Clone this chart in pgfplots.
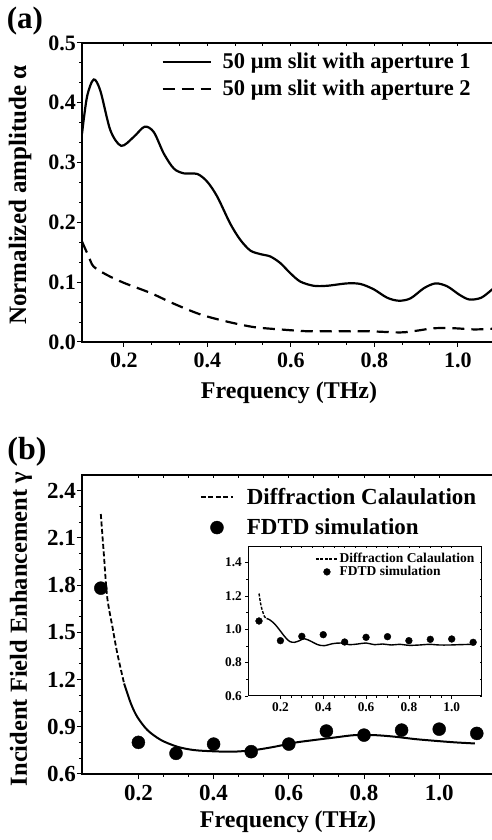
\documentclass[border=0pt]{standalone}
\usepackage{fontspec}
\setmainfont{Liberation Serif}
\usepackage{pgfplots}
\pgfplotsset{compat=1.18}
\newcommand{\fs}[1]{\fontsize{#1}{#1}\selectfont\bfseries}

\pgfplotsset{
  common/.style={
    scale only axis,
    tick align=outside, xtick pos=left, ytick pos=left,
    major tick length=5pt, minor tick length=3pt,
    every tick/.style={black, line width=1pt},
    axis line style={line width=1.3pt},
    /pgf/number format/assume math mode=true,
    xticklabel style={/pgf/number format/.cd, fixed, fixed zerofill, precision=1},
    yticklabel style={/pgf/number format/.cd, fixed, fixed zerofill, precision=1},
    legend cell align=left,
  },
  topticks/.style={
    scale only axis, axis x line*=top, axis y line=none,
    tick align=inside, xticklabels={}, major tick length=3pt, minor tick length=3pt,
    every tick/.style={black, line width=1pt},
    axis line style={line width=1.3pt},
  },
  dotlegA/.style={legend image code/.code={\draw[##1] plot coordinates {(16pt,0pt)};}},
  dotlegB/.style={legend image code/.code={\draw[##1] plot coordinates {(11pt,0pt)};}},
}

\begin{document}
\begin{tikzpicture}
\useasboundingbox (0pt,0pt) rectangle (491pt,840pt);

% ---------- panel (a)
\node[font=\fs{31}] at (25pt,819pt) {(a)};
\begin{axis}[common,
  at={(82pt,498pt)}, anchor=south west, width=417.5pt, height=299pt,
  xmin=0.1, xmax=1.1, ymin=0, ymax=0.5,
  xtick={0.2,0.4,0.6,0.8,1.0}, ytick={0,0.1,0.2,0.3,0.4,0.5},
  minor x tick num=2, minor y tick num=2,
  tick label style={font=\fs{22}, inner sep=1pt},
  xticklabel style={/tikz/yshift=-5pt},
  xlabel={Frequency (THz)}, ylabel={Normalized amplitude α},
  xlabel style={font=\fs{24}, inner sep=1pt, at={(axis description cs:0.4958,-0.1706)}, anchor=center},
  ylabel style={font=\fs{25}, at={(axis description cs:-0.1485,0.4916)}, anchor=center},
  legend style={draw=none, fill=none, at={(axis description cs:0.19,0.97)}, anchor=north west,
    font=\fs{22.5}, inner sep=0pt, row sep=8pt, nodes={inner ysep=1pt, inner xsep=6pt},
    /tikz/every odd column/.append style={column sep=5pt}},
  legend image code/.code={\draw[#1] (0pt,0pt) -- (48pt,0pt);},
]
\addplot[black, line width=2.2pt, smooth] coordinates {
(0.100,0.348) (0.112,0.410) (0.128,0.439) (0.144,0.420) (0.168,0.354) (0.194,0.328)
(0.224,0.343) (0.250,0.360) (0.272,0.351) (0.296,0.315) (0.320,0.290) (0.344,0.282)
(0.376,0.281) (0.400,0.268) (0.424,0.243) (0.455,0.198) (0.479,0.171) (0.503,0.153)
(0.527,0.147) (0.551,0.143) (0.575,0.132) (0.599,0.115) (0.623,0.101) (0.655,0.094)
(0.687,0.094) (0.735,0.098) (0.767,0.097) (0.799,0.088) (0.831,0.074) (0.859,0.069)
(0.887,0.073) (0.919,0.090) (0.947,0.098) (0.975,0.093) (1.004,0.079) (1.028,0.071)
(1.056,0.074) (1.081,0.087) (1.100,0.098)};
\addlegendentry{50 μm slit with aperture 1}
\addplot[black, line width=2.2pt, smooth, dash pattern=on 12pt off 7pt] coordinates {
(0.100,0.168) (0.116,0.143) (0.128,0.126) (0.160,0.112) (0.200,0.099) (0.264,0.082)
(0.320,0.064) (0.384,0.046) (0.448,0.034) (0.511,0.025) (0.575,0.021) (0.639,0.018)
(0.703,0.018) (0.783,0.018) (0.863,0.016) (0.903,0.019) (0.943,0.023) (0.991,0.023)
(1.039,0.021) (1.081,0.022) (1.100,0.022)};
\addlegendentry{50 μm slit with aperture 2}
\end{axis}
\begin{axis}[topticks, at={(82pt,498pt)}, anchor=south west, width=417.5pt, height=299pt,
  xmin=0.1, xmax=1.1, ymin=0, ymax=0.5, xtick={0.2,0.4,0.6,0.8,1.0}, minor x tick num=2]
\end{axis}

% ---------- panel (b)
\node[font=\fs{32}] at (27pt,388pt) {(b)};
\begin{axis}[common,
  at={(82pt,66pt)}, anchor=south west, width=413.6pt, height=299pt,
  xmin=0.05, xmax=1.15, ymin=0.6, ymax=2.5,
  xtick={0.2,0.4,0.6,0.8,1.0}, ytick={0.6,0.9,1.2,1.5,1.8,2.1,2.4},
  minor x tick num=2, minor y tick num=2,
  tick label style={font=\fs{23}, inner sep=1pt},
  xticklabel style={/tikz/yshift=-5pt},
  xlabel={Frequency (THz)}, ylabel={Incident Field Enhancement γ},
  xlabel style={font=\fs{24}, inner sep=1pt, at={(axis description cs:0.498,-0.159)}, anchor=center},
  ylabel style={font=\fs{24.5}, at={(axis description cs:-0.1475,0.485)}, anchor=center},
  legend style={draw=none, fill=none, at={(axis description cs:0.285,0.96)}, anchor=north west,
    font=\fs{23}, inner sep=0pt, row sep=11pt, nodes={inner ysep=1pt, inner xsep=6pt},
    /tikz/every odd column/.append style={column sep=7pt}},
  legend image code/.code={\draw[#1] (0pt,0pt) -- (32pt,0pt);},
]
\addplot[black, line width=1.8pt, smooth, dash pattern=on 5pt off 2.5pt] coordinates {
(0.100,2.252) (0.108,2.000) (0.117,1.724) (0.131,1.534) (0.144,1.365) (0.162,1.175)};
\addlegendentry{Diffraction Calaulation}
\addplot[black, only marks, mark=*, mark size=6.5pt, dotlegA] coordinates {
(0.1,1.781) (0.2,0.801) (0.3,0.731) (0.4,0.790) (0.5,0.742) (0.6,0.790)
(0.7,0.873) (0.8,0.847) (0.9,0.879) (1.0,0.885) (1.1,0.858)};
\addlegendentry{FDTD simulation}
\addplot[black, line width=2pt, smooth, forget plot] coordinates {
(0.162,1.175) (0.180,1.048) (0.197,0.963) (0.224,0.879) (0.260,0.816) (0.304,0.773)
(0.348,0.752) (0.402,0.744) (0.455,0.742) (0.508,0.752) (0.562,0.773) (0.615,0.799)
(0.668,0.816) (0.722,0.832) (0.775,0.847) (0.828,0.847) (0.882,0.837) (0.935,0.822)
(0.988,0.811) (1.042,0.801) (1.095,0.794)};
\end{axis}
\begin{axis}[topticks, at={(82pt,66pt)}, anchor=south west, width=413.6pt, height=299pt,
  xmin=0.05, xmax=1.15, ymin=0.6, ymax=2.5, xtick={0.2,0.4,0.6,0.8,1.0}, minor x tick num=2]
\end{axis}

% ---------- inset
\begin{axis}[common,
  at={(248.3pt,144pt)}, anchor=south west, width=233.4pt, height=150pt,
  xmin=0.05, xmax=1.14, ymin=0.6, ymax=1.5,
  xtick={0.2,0.4,0.6,0.8,1.0}, ytick={0.6,0.8,1.0,1.2,1.4},
  minor x tick num=3, minor y tick num=1,
  major tick length=3pt, minor tick length=2pt,
  axis line style={line width=1pt}, every tick/.style={black, line width=0.8pt},
  tick label style={font=\fs{13.3}},
  legend style={draw=none, fill=none, at={(axis description cs:0.286,0.955)}, anchor=north west,
    font=\fs{13.5}, inner sep=0pt, row sep=1pt, nodes={inner ysep=0.5pt, inner xsep=1pt}},
  legend image code/.code={\draw[#1] (0pt,0pt) -- (22pt,0pt);},
]
\addplot[black, line width=1.4pt, smooth, dash pattern=on 3pt off 1.5pt] coordinates {
(0.100,1.215) (0.110,1.139) (0.125,1.078) (0.135,1.065)};
\addlegendentry{Diffraction Calaulation}
\addplot[black, only marks, mark=*, mark size=3.4pt, dotlegB] coordinates {
(0.1,1.050) (0.2,0.932) (0.3,0.958) (0.4,0.968) (0.5,0.924) (0.6,0.952)
(0.7,0.956) (0.8,0.932) (0.9,0.940) (1.0,0.942) (1.1,0.922)};
\addlegendentry{FDTD simulation}
\addplot[black, line width=1.4pt, smooth, forget plot] coordinates {
(0.135,1.065) (0.149,1.058) (0.172,1.034) (0.195,0.998) (0.219,0.958) (0.242,0.928)
(0.265,0.922) (0.289,0.932) (0.312,0.944) (0.343,0.928) (0.374,0.908) (0.405,0.902)
(0.444,0.914) (0.483,0.918) (0.522,0.908) (0.561,0.912) (0.600,0.918) (0.639,0.908)
(0.678,0.912) (0.717,0.906) (0.756,0.910) (0.802,0.904) (0.849,0.906) (0.896,0.910)
(0.942,0.906) (0.989,0.906) (1.036,0.908) (1.090,0.910)};
\end{axis}
\begin{axis}[scale only axis, at={(248.3pt,144pt)}, anchor=south west, width=233.4pt, height=150pt,
  xmin=0.05, xmax=1.14, ymin=0.6, ymax=1.5,
  axis x line*=top, axis y line*=right, tick align=inside,
  xtick={0.2,0.4,0.6,0.8,1.0}, ytick={0.6,0.8,1.0,1.2,1.4},
  minor x tick num=3, minor y tick num=1,
  xticklabels={}, yticklabels={}, major tick length=2pt, minor tick length=2pt,
  every tick/.style={black, line width=0.8pt}, axis line style={line width=1pt}]
\end{axis}
\end{tikzpicture}
\end{document}
